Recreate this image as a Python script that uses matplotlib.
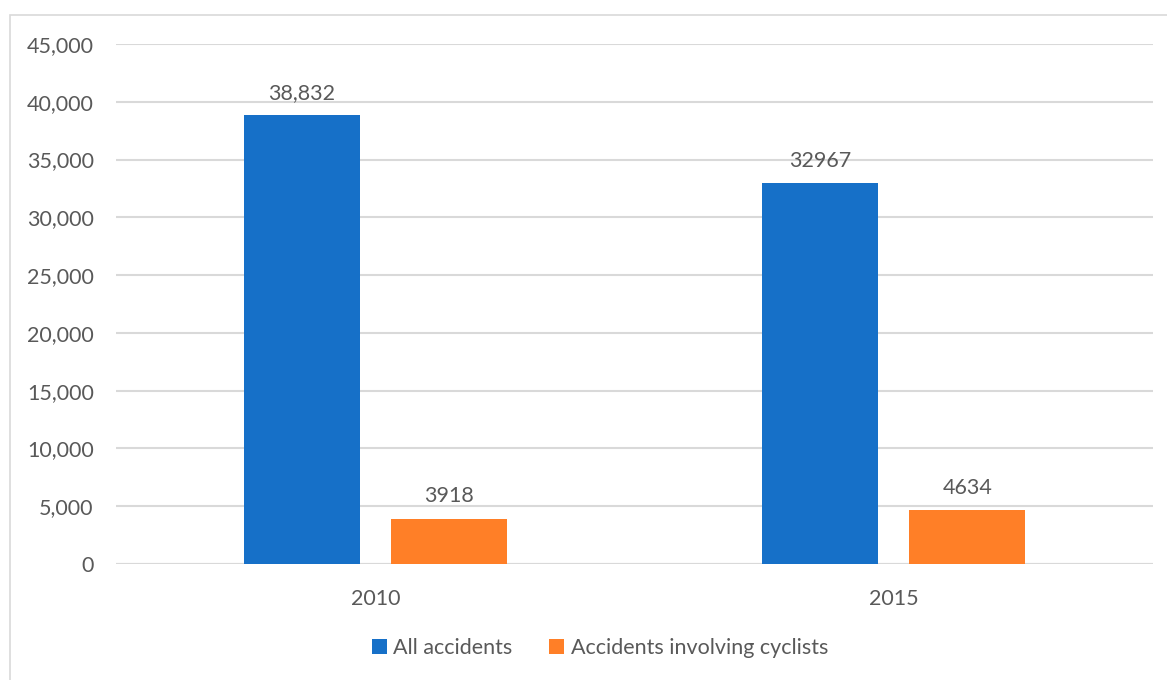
import matplotlib.pyplot as plt
from matplotlib.ticker import FuncFormatter, MultipleLocator
from matplotlib.patches import Rectangle
import numpy as np

years = ["2010", "2015"]
all_accidents = [38832, 32967]
cyclist_accidents = [3918, 4634]
all_labels = ["38,832", "32967"]
cyclist_labels = ["3918", "4634"]

blue = "#1670C8"
orange = "#FF7F27"
text_grey = "#595959"
grid_grey = "#D9D9D9"
fs = 15.5

plt.rcParams["font.family"] = ["Lato", "DejaVu Sans"]

fig = plt.figure(figsize=(11.67, 6.8), dpi=100)
ax = fig.add_axes([116 / 1167, 1 - 564 / 680, (1153 - 116) / 1167, (564 - 44) / 680])

# frame around the whole chart
fig.patches.append(Rectangle((10 / 1167, -0.01), 1.1, 1 - 15 / 680 + 0.01,
                             transform=fig.transFigure, fill=False,
                             edgecolor=grid_grey, linewidth=1.2))

x = np.arange(len(years))
w = 0.224
off = 0.142
b1 = ax.bar(x - off, all_accidents, w, color=blue, label="All accidents", zorder=3)
b2 = ax.bar(x + off, cyclist_accidents, w, color=orange,
            label="Accidents involving cyclists", zorder=3)

for bars, labels in ((b1, all_labels), (b2, cyclist_labels)):
    for bar, lab in zip(bars, labels):
        ax.annotate(lab, (bar.get_x() + bar.get_width() / 2, bar.get_height()),
                    xytext=(0, 9), textcoords="offset points", ha="center",
                    va="bottom", fontsize=fs, color=text_grey)

ax.set_xlim(-0.5, 1.5)
ax.set_ylim(0, 45000)
ax.yaxis.set_major_locator(MultipleLocator(5000))
ax.yaxis.set_major_formatter(FuncFormatter(lambda v, p: f"{int(v):,}"))
ax.set_xticks(x)
ax.set_xticklabels(years)
ax.grid(axis="y", color=grid_grey, linewidth=1.5, zorder=0)
for s in ax.spines.values():
    s.set_visible(False)
ax.axhline(0, color=grid_grey, linewidth=1.5, zorder=1)
ax.tick_params(length=0, labelsize=fs, labelcolor=text_grey)
ax.tick_params(axis="y", pad=16)
ax.tick_params(axis="x", pad=18)

fig.legend(handles=[b1, b2], loc="center", bbox_to_anchor=(600 / 1167, 1 - 648 / 680),
           ncol=2, frameon=False, fontsize=fs, labelcolor=text_grey,
           handlelength=0.7, handleheight=0.7, handletextpad=0.3, columnspacing=1.7)

fig.savefig("out.png", dpi=100, facecolor="white")
